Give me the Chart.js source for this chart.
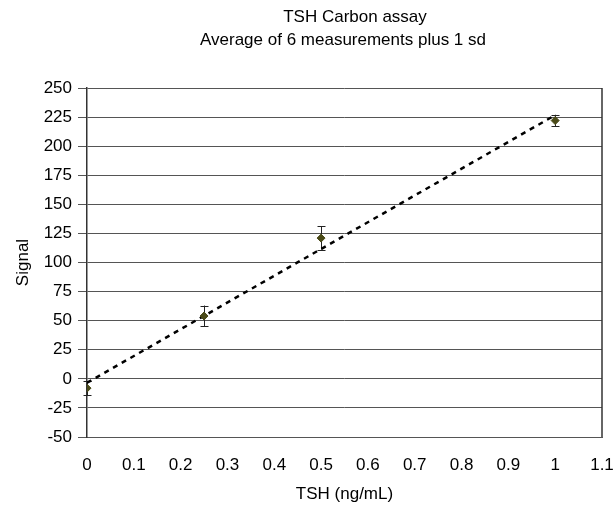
<!DOCTYPE html>
<html>
<head>
<meta charset="utf-8">
<script src="https://cdn.jsdelivr.net/npm/chart.js@4.4.1/dist/chart.umd.min.js"></script>
<style>
  body { margin: 0; background: #fff; }
  #wrap { width: 613px; height: 505px; }
</style>
</head>
<body>
<div id="wrap"><canvas id="chart" width="613" height="505"></canvas></div>
<script>
// 데이터
const tshConc = [0, 0.25, 0.5, 1];          // TSH (ng/mL)
const signalMean = [-8, 54, 121, 222];      // 평균 신호
const signalSd = [6, 9, 10, 5];             // 1 sd
const titleLines = ['TSH Carbon assay', 'Average of 6 measurements plus 1 sd'];

// 추세선 (최소제곱 직선, 데이터 범위만큼)
function linearFit(xs, ys) {
    const n = xs.length;
    const mx = xs.reduce((a, b) => a + b, 0) / n;
    const my = ys.reduce((a, b) => a + b, 0) / n;
    let sxy = 0, sxx = 0;
    for (let i = 0; i < n; i++) {
        sxy += (xs[i] - mx) * (ys[i] - my);
        sxx += (xs[i] - mx) * (xs[i] - mx);
    }
    const slope = sxy / sxx;
    return { slope: slope, intercept: my - slope * mx };
}
const fit = linearFit(tshConc, signalMean);
const xMin = Math.min(...tshConc), xMax = Math.max(...tshConc);
const trendPoints = [
    { x: xMin, y: fit.intercept + fit.slope * xMin },
    { x: xMax, y: fit.intercept + fit.slope * xMax }
];

const FONT = 'Liberation Sans, Arial, sans-serif';

// 제목 그리기
const titlePlugin = {
    id: 'titleText',
    afterDraw(chart) {
        const ctx = chart.ctx;
        ctx.save();
        ctx.fillStyle = '#000';
        ctx.font = '17px ' + FONT;
        ctx.textAlign = 'center';
        ctx.textBaseline = 'middle';
        ctx.fillText(titleLines[0], 355, 17);
        ctx.fillText(titleLines[1], 343, 40);
        ctx.restore();
    }
};

// 오차 막대 + 플롯 테두리
const errorBarPlugin = {
    id: 'errorBars',
    beforeDatasetsDraw(chart) {
        const ctx = chart.ctx;
        const xs = chart.scales.x, ys = chart.scales.y;
        const a = chart.chartArea;
        ctx.save();
        ctx.strokeStyle = '#333';
        ctx.lineWidth = 1.5;
        ctx.beginPath();
        ctx.moveTo(a.right, a.top);
        ctx.lineTo(a.right, a.bottom);
        ctx.stroke();

        ctx.strokeStyle = '#222';
        ctx.lineWidth = 1;
        for (let i = 0; i < tshConc.length; i++) {
            const px = Math.round(xs.getPixelForValue(tshConc[i])) + 0.5;
            const top = ys.getPixelForValue(signalMean[i] + signalSd[i]);
            const bot = ys.getPixelForValue(signalMean[i] - signalSd[i]);
            ctx.beginPath();
            ctx.moveTo(px, top); ctx.lineTo(px, bot);
            ctx.moveTo(px - 4, Math.round(top) + 0.5); ctx.lineTo(px + 4, Math.round(top) + 0.5);
            ctx.moveTo(px - 4, Math.round(bot) + 0.5); ctx.lineTo(px + 4, Math.round(bot) + 0.5);
            ctx.stroke();
        }
        ctx.restore();
    }
};

const config = {
    type: 'scatter',
    data: {
        datasets: [
            {
                label: 'trend',
                data: trendPoints,
                showLine: true,
                borderColor: '#000',
                borderWidth: 2.5,
                borderDash: [5, 5],
                pointRadius: 0,
                order: 2
            },
            {
                label: 'Signal',
                data: tshConc.map((x, i) => ({ x: x, y: signalMean[i] })),
                pointStyle: 'rectRot',
                pointRadius: 4,
                backgroundColor: '#4a4a18',
                borderColor: '#4a4a18',
                order: 1
            }
        ]
    },
    options: {
        responsive: false,
        animation: false,
        layout: { padding: { top: 88, right: 11, left: 0, bottom: 0 } },
        plugins: {
            legend: { display: false },
            tooltip: { enabled: false },
            title: { display: false }
        },
        scales: {
            x: {
                type: 'linear',
                min: 0,
                max: 1.1,
                afterFit: function(scale) {
                    scale.height = 68;
                    scale.paddingLeft = 0;
                    scale.paddingRight = 0;
                },
                ticks: {
                    stepSize: 0.1,
                    color: '#000',
                    padding: 10,
                    font: { family: FONT, size: 17 },
                    callback: function(v) { return Math.round(v * 10) / 10; }
                },
                grid: { display: false },
                border: { display: true, color: '#555', width: 1 },
                title: {
                    display: true,
                    text: 'TSH (ng/mL)',
                    color: '#000',
                    font: { family: FONT, size: 17 },
                    padding: { top: 0, bottom: 0 }
                }
            },
            y: {
                min: -50,
                max: 250,
                afterFit: function(scale) { scale.width = 87; },
                ticks: {
                    stepSize: 25,
                    color: '#000',
                    padding: 6,
                    font: { family: FONT, size: 17 }
                },
                grid: {
                    color: '#555',
                    lineWidth: 1,
                    tickLength: 9
                },
                border: { display: true, color: '#333', width: 1.5 },
                title: {
                    display: true,
                    text: 'Signal',
                    color: '#000',
                    font: { family: FONT, size: 17 },
                    padding: { top: 13, bottom: 13 }
                }
            }
        }
    },
    plugins: [errorBarPlugin, titlePlugin]
};

// 그래프 생성
const signalChart = new Chart(document.getElementById('chart'), config);
</script>
</body>
</html>
